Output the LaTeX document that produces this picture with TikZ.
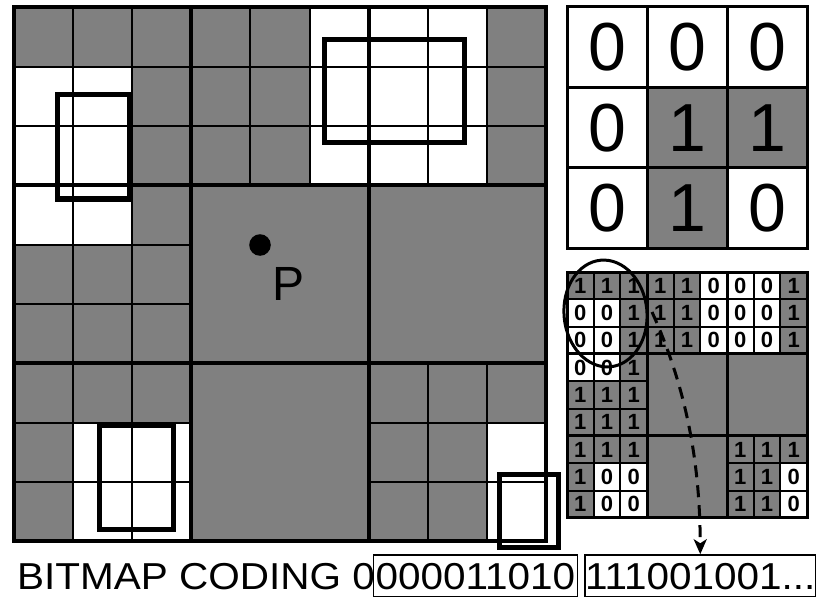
\documentclass[tikz,border=0pt]{standalone}
\usepackage{fontspec}
\setmainfont{Liberation Sans}
\newfontfamily\codefont[FakeStretch=1.08]{Liberation Sans}
\usetikzlibrary{arrows.meta}
\definecolor{cellgray}{RGB}{128,128,128}
\begin{document}
\begin{tikzpicture}[x=1pt,y=-1pt,
  thinline/.style={line width=2pt},
  thickline/.style={line width=4pt},
  objbox/.style={line width=5pt},
  smallcell/.style={line width=2pt},
  smalldigit/.style={inner sep=0pt,font=\fontsize{22}{25}\selectfont\bfseries},
  bigdigit/.style={inner sep=0pt,font=\fontsize{68}{80}\selectfont},
  codebox/.style={draw,line width=1.5pt,inner xsep=0pt,inner ysep=7.5pt,text height=26.5pt,text depth=0pt,font=\codefont\fontsize{37.5}{44}\selectfont},
  codetext/.style={inner sep=0pt,font=\codefont\fontsize{37.5}{44}\selectfont},
  linkarrow/.style={line width=3pt,dash pattern=on 12pt off 8pt,-{Stealth[length=15pt,width=13pt,inset=4pt]}}
]
\useasboundingbox (0,0) rectangle (817,599);
\fill[white] (0,0) rectangle (817,599);

% ---------- main grid ----------
\def\MX{13.5}\def\MY{7.5}\def\MW{59.22}\def\MH{59.33}
\fill[cellgray] (\MX,\MY) rectangle ({\MX+9*\MW},{\MY+9*\MH});
\foreach \r/\c in {1/0,1/1,2/0,2/1,0/5,1/5,2/5,0/6,1/6,2/6,0/7,1/7,2/7,3/0,3/1,7/1,7/2,8/1,8/2,7/8,8/8}{
  \fill[white] ({\MX+\MW*\c},{\MY+\MH*\r}) rectangle ({\MX+\MW*(\c+1)},{\MY+\MH*(\r+1)});
}
\foreach \br/\bc in {0/0,0/1,0/2,1/0,2/0,2/2}{
  \foreach \k in {1,2}{
    \draw[thinline] ({\MX+\MW*(3*\bc+\k)},{\MY+\MH*3*\br}) -- ++(0,{3*\MH});
    \draw[thinline] ({\MX+\MW*3*\bc},{\MY+\MH*(3*\br+\k)}) -- ++({3*\MW},0);
  }
}
\foreach \k in {3,6}{
  \draw[thickline] ({\MX+\MW*\k},\MY) -- ++(0,{9*\MH});
  \draw[thickline] (\MX,{\MY+\MH*\k}) -- ++({9*\MW},0);
}
\draw[thickline] (\MX,\MY) rectangle ({\MX+9*\MW},{\MY+9*\MH});

% object boxes
\draw[objbox] (57,95) rectangle (129.5,199);
\draw[objbox] (324.5,40) rectangle (464,143);
\draw[objbox] (99.8,425.3) rectangle (173,529.7);
\draw[objbox] (499.5,474.5) rectangle (558,547.5);

% point P
\node[circle,fill=black,minimum size=21.6pt,inner sep=0pt] (dotP) at (260,245) {};
\node[inner sep=0pt,font=\fontsize{48}{56}\selectfont] (labP) at (289,284) {P};

% ---------- top-right 3x3 matrix ----------
\def\TX{567}\def\TY{7}\def\TW{80}\def\TH{80.5}
\foreach \r/\row in {0/{0,0,0},1/{0,1,1},2/{0,1,0}}{
  \foreach \v [count=\c from 0] in \row {
    \if\v1
      \fill[cellgray] ({\TX+\TW*\c},{\TY+\TH*\r}) rectangle ({\TX+\TW*(\c+1)},{\TY+\TH*(\r+1)});
    \fi
    \node[bigdigit] (t\r\c) at ({\TX+\TW*(\c+0.5)},{\TY+\TH*(\r+0.5)}) {\v};
  }
}
\foreach \k in {1,2}{
  \draw[line width=3pt] ({\TX+\TW*\k},\TY) -- ++(0,{3*\TH});
  \draw[line width=3pt] (\TX,{\TY+\TH*\k}) -- ++({3*\TW},0);
}
\draw[line width=3pt] (\TX,\TY) rectangle ({\TX+3*\TW},{\TY+3*\TH});

% ---------- bottom-right coded matrix ----------
\def\SX{567}\def\SY{272}\def\SW{26.67}\def\SH{27.33}
\fill[cellgray] (\SX,\SY) rectangle ({\SX+9*\SW},{\SY+9*\SH});
\foreach \r/\row in {0/{1,1,1,1,1,0,0,0,1},1/{0,0,1,1,1,0,0,0,1},2/{0,0,1,1,1,0,0,0,1},3/{0,0,1,x,x,x,x,x,x},4/{1,1,1,x,x,x,x,x,x},5/{1,1,1,x,x,x,x,x,x},6/{1,1,1,x,x,x,1,1,1},7/{1,0,0,x,x,x,1,1,0},8/{1,0,0,x,x,x,1,1,0}}{
  \foreach \v [count=\c from 0] in \row {
    \if\v x\else
      \if\v0
        \fill[white] ({\SX+\SW*\c},{\SY+\SH*\r}) rectangle ({\SX+\SW*(\c+1)},{\SY+\SH*(\r+1)});
      \fi
      \draw[smallcell] ({\SX+\SW*\c},{\SY+\SH*\r}) rectangle ({\SX+\SW*(\c+1)},{\SY+\SH*(\r+1)});
      \node[smalldigit] (s\r\c) at ({\SX+\SW*(\c+0.5)},{\SY+\SH*(\r+0.5)}) {\v};
    \fi
  }
}
\foreach \k in {3,6}{
  \draw[line width=3pt] ({\SX+\SW*\k},\SY) -- ++(0,{9*\SH});
  \draw[line width=3pt] (\SX,{\SY+\SH*\k}) -- ++({9*\SW},0);
}
\draw[line width=3pt] (\SX,\SY) rectangle ({\SX+9*\SW},{\SY+9*\SH});

% ellipse
\draw[line width=3pt,rotate around={5:(605.5,313.5)}] (605.5,313.5) ellipse [x radius=41.5pt, y radius=53.5pt];

% ---------- bitmap coding text ----------
\node[codetext,anchor=base west] (bmlabel) at (17,589) {BITMAP CODING 0};
\node[codebox,anchor=base west,minimum width=204pt] (code1) at (372.7,589) {000011010};
\node[codebox,anchor=base west,minimum width=229pt] (code2) at (584.3,589) {111001001...};

% dashed arrow
\coordinate (astart) at (652,312);
\draw[linkarrow] (astart) .. controls (692,400) and (700,480) .. (code2.north);
\end{tikzpicture}
\end{document}
